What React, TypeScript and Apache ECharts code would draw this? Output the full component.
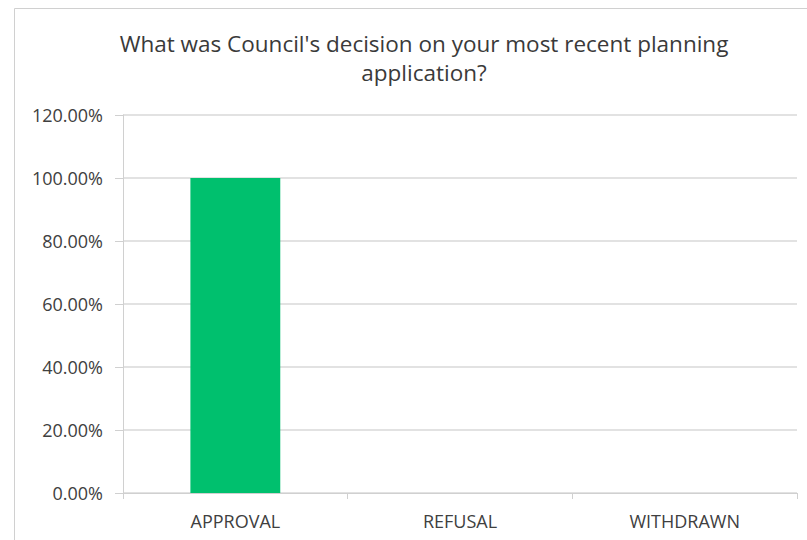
import React, { useEffect, useRef } from "react";
import * as echarts from "echarts";

const titleText = "What was Council's decision on your most recent planning\napplication?";
const categories = ["APPROVAL", "REFUSAL", "WITHDRAWN"];
const values = [1.0, 0, 0];
const yMin = 0;
const yMax = 1.2;
const yStep = 0.2;

export default function App() {
  const ref = useRef<HTMLDivElement>(null);
  useEffect(() => {
    if (!ref.current) return;
    const chart = echarts.init(ref.current, null, { renderer: "svg" });
    chart.setOption({
      animation: false,
      backgroundColor: "#ffffff",
      graphic: [
        {
          type: "rect",
          shape: { x: 14.5, y: 8.5, width: 800, height: 540 },
          style: { fill: "none", stroke: "#d0d0d0", lineWidth: 1 },
          silent: true,
        },
      ],
      title: {
        text: titleText,
        left: 419,
        textAlign: "center",
        top: 24,
        textStyle: {
          fontFamily: "Open Sans",
          fontSize: 22.5,
          fontWeight: "normal",
          color: "#3a3a3a",
          lineHeight: 29,
        },
      },
      grid: { left: 123, right: 10, top: 115, bottom: 47, containLabel: false },
      xAxis: {
        type: "category",
        data: categories,
        boundaryGap: true,
        axisLine: { show: true, lineStyle: { color: "#d0d0d0", width: 1 } },
        axisTick: { show: true, length: 6, lineStyle: { color: "#d0d0d0" } },
        axisLabel: {
          fontFamily: "Open Sans",
          fontSize: 18,
          color: "#404040",
          margin: 19,
        },
      },
      yAxis: {
        type: "value",
        min: yMin,
        max: yMax,
        interval: yStep,
        axisLine: { show: true, lineStyle: { color: "#d0d0d0", width: 1 } },
        axisTick: { show: true, length: 8, lineStyle: { color: "#d0d0d0" } },
        splitLine: { show: true, lineStyle: { color: "#d9d9d9", width: 1.5 } },
        axisLabel: {
          fontFamily: "Open Sans",
          fontSize: 18,
          color: "#404040",
          margin: 20,
          formatter: (v: number) => (v * 100).toFixed(2) + "%",
        },
      },
      series: [
        {
          type: "bar",
          data: values,
          barWidth: "40%",
          itemStyle: { color: "#00c06e" },
        },
      ],
    });
    return () => chart.dispose();
  }, []);
  return <div ref={ref} style={{ width: 807, height: 540, position: "absolute", left: 0, top: 0 }} />;
}
